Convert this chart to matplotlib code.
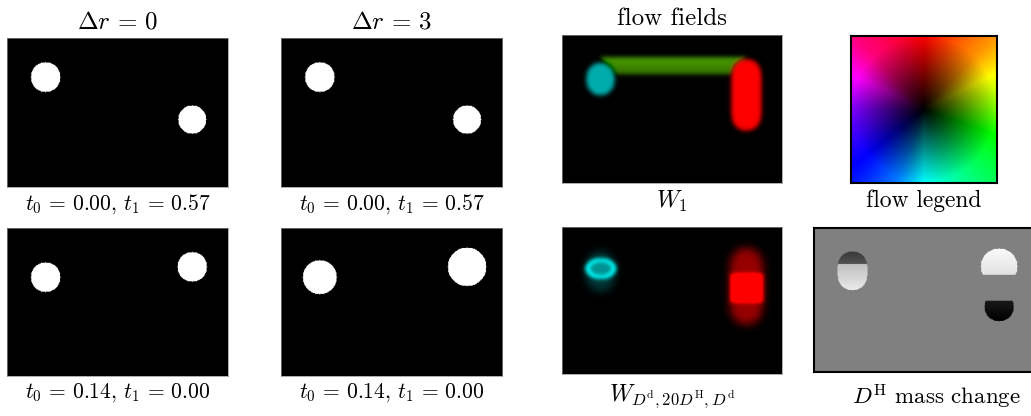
import numpy as np
import matplotlib
matplotlib.use('Agg')
import matplotlib.pyplot as plt
from matplotlib.colors import hsv_to_rgb

plt.rcParams['mathtext.fontset'] = 'cm'
plt.rcParams['font.family'] = 'serif'
plt.rcParams['font.serif'] = ['cmr10']
plt.rcParams['axes.unicode_minus'] = False

W, H = 1031, 416
NX, NY = 300, 200          # image grid (x, y), y grows downwards

# text
col_titles = [r'$\Delta r\,=\,0$', r'$\Delta r\,=\,3$', 'flow fields']
row1_labels = [r'$t_0\,=\,0.00,\,t_1\,=\,0.57$', r'$t_0\,=\,0.00,\,t_1\,=\,0.57$',
               r'$W_1$', 'flow legend']
row2_labels = [r'$t_0\,=\,0.14,\,t_1\,=\,0.00$', r'$t_0\,=\,0.14,\,t_1\,=\,0.00$',
               r'$W_{D^{\mathrm{d}},20D^{\mathrm{H}},D^{\mathrm{d}}}$',
               r'$D^{\mathrm{H}}$ mass change']

# discs (x, y, r) for the two image columns
discs_r1_dr0 = [(52, 52, 20), (251, 109, 19)]
discs_r1_dr3 = [(52, 52, 20), (251, 109, 19)]
discs_r2_dr0 = [(52, 66, 20), (251, 52, 20)]
discs_r2_dr3 = [(52, 66, 23), (251, 52, 26)]

# colour wheel: flow angle (deg, y up) -> hue (deg)
wheel_ang = [-180, -135, -110, -90, -45, -20, 0, 26, 45, 90, 135, 155, 180]
wheel_hue = [270, 235, 210, 180, 140, 120, 92, 60, 35, 0, -30, -60, -90]

# W1 flow: horizontal bar (trapezoid) + two swept discs
bar_y = [30, 52]
bar_x_top = [52, 250]
bar_x_bot = [72, 229]
bar_flow = (0.56, 0.0)
# capsules: x, y start, y end, r, u, v
w1_caps = [(52, 56, 62, 19, 0.0, -0.68),
           (251, 52, 109, 20, 0.0, 1.0)]

# second flow field
ring_c = (52.5, 56)
ring_ab = (21, 14)
ring_flow = [0.35, 0.95]       # inside, ring
halo_caps = [(52, 52, 68, 19, 0.0, -0.22),
             (251, 50, 110, 22, 0.0, 0.6)]
core_x = [230, 273]
core_y = [64, 101]
core_flow = (0.0, 1.0)

# mass change: x, y start, y end, r, clip top, clip bottom, grey top, grey bottom
mass_parts = [(52, 52, 66, 20, 0, 50, 0.22, 0.33),
              (52, 52, 66, 20, 50, NY, 0.75, 0.92),
              (252, 53, 53, 25, 0, 65, 0.98, 0.88),
              (252, 109, 109, 20, 101, NY, 0.10, 0.0)]

X, Y = np.meshgrid(np.arange(NX), np.arange(NY))


def capsule(cx, ya, yb, r):
    yy = np.clip(Y, ya, yb)
    return (X - cx) ** 2 + (Y - yy) ** 2 <= r ** 2


def blur(a, s):
    n = int(3 * s) + 1
    k = np.exp(-0.5 * (np.arange(-n, n + 1) / s) ** 2)
    k /= k.sum()
    a = np.apply_along_axis(lambda m: np.convolve(m, k, mode='same'), 0, a)
    a = np.apply_along_axis(lambda m: np.convolve(m, k, mode='same'), 1, a)
    return a


def wheel(u, v):
    ang = np.degrees(np.arctan2(v, u))
    hue = (np.interp(ang, wheel_ang, wheel_hue) % 360) / 360
    mag = np.clip(np.hypot(u, v), 0, 1)
    return hsv_to_rgb(np.stack([hue, np.ones_like(hue), mag], -1))


def disc_image(discs):
    img = np.zeros((NY, NX))
    for cx, cy, r in discs:
        img[(X - cx) ** 2 + (Y - cy) ** 2 <= r ** 2] = 1
    return img


# W1
u = np.zeros((NY, NX)); v = np.zeros((NY, NX))
f = (Y - bar_y[0]) / (bar_y[1] - bar_y[0])
bar = ((Y >= bar_y[0]) & (Y <= bar_y[1])
       & (X >= bar_x_top[0] + f * (bar_x_bot[0] - bar_x_top[0]))
       & (X <= bar_x_top[1] + f * (bar_x_bot[1] - bar_x_top[1])))
u[bar] = bar_flow[0] * (1.1 - 0.3 * f[bar])
v[bar] = bar_flow[1]
for cx, ya, yb, r, fu, fv in w1_caps:
    m = capsule(cx, ya, yb, r)
    u[m], v[m] = fu, fv
flow1 = wheel(blur(u, 3.0), blur(v, 3.0))

# second flow
uh = np.zeros((NY, NX)); vh = np.zeros((NY, NX))
for cx, ya, yb, r, fu, fv in halo_caps:
    m = capsule(cx, ya, yb, r)
    uh[m], vh[m] = fu, fv
us = np.zeros((NY, NX)); vs = np.zeros((NY, NX))
e = ((X - ring_c[0]) / ring_ab[0]) ** 2 + ((Y - ring_c[1]) / ring_ab[1]) ** 2
vs[e < 0.5] = -ring_flow[0]
vs[(e >= 0.5) & (e <= 1)] = -ring_flow[1]
core = (X >= core_x[0]) & (X <= core_x[1]) & (Y >= core_y[0]) & (Y <= core_y[1])
us[core], vs[core] = core_flow
flow2 = wheel(blur(uh, 6) + blur(us, 2.8), blur(vh, 6) + blur(vs, 2.8))

# legend
g = np.linspace(-1, 1, 148)
LU, LV = np.meshgrid(g, -g)
legend_img = wheel(LU, LV)

# mass change
mass = np.full((NY, NX), 0.5)
for cx, ya, yb, r, c0, c1, g0, g1 in mass_parts:
    m = capsule(cx, ya, yb, r) & (Y >= c0) & (Y < c1)
    y0 = max(c0, ya - r); y1 = min(c1, yb + r)
    mass[m] = (g0 + (g1 - g0) * (Y - y0) / (y1 - y0))[m]


def add_ax(x0, y0, x1, y1):
    return fig.add_axes([x0 / W, 1 - y1 / H, (x1 - x0) / W, (y1 - y0) / H])


fig = plt.figure(figsize=(W / 100, H / 100), dpi=100)

boxes = [[(7, 38, 228, 187), (281, 38, 502, 187), (562, 35, 782, 183), (851, 36, 997, 183)],
         [(7, 228, 228, 376), (281, 228, 502, 376), (562, 227, 782, 374), (814, 228, 1034, 372)]]
images = [[disc_image(discs_r1_dr0), disc_image(discs_r1_dr3), flow1, legend_img],
          [disc_image(discs_r2_dr0), disc_image(discs_r2_dr3), flow2, mass]]
labels = [row1_labels, row2_labels]
label_size = [[15.5, 15.5, 17, 17], [15.5, 15.5, 17, 16.5]]
label_off = [[(0, -4), (0, -4), (0, -4), (0, -5)],
             [(0, -4), (0, -4), (0, -6), (9, -8)]]

for i in range(2):
    for j in range(4):
        ax = add_ax(*boxes[i][j])
        img = images[i][j]
        if img.ndim == 2:
            ax.imshow(img, cmap='gray', vmin=0, vmax=1, aspect='auto',
                      extent=(0, img.shape[1], img.shape[0], 0))
        else:
            ax.imshow(img, aspect='auto', extent=(0, img.shape[1], img.shape[0], 0))
        ax.set_xticks([]); ax.set_yticks([])
        for s in ax.spines.values():
            if j == 3:
                s.set_color('black'); s.set_linewidth(1.5)
            else:
                s.set_color('0.55'); s.set_linewidth(0.5)
        if i == 0 and j < 3:
            ax.set_title(col_titles[j], fontsize=18, pad=7)
        ax.annotate(labels[i][j], xy=(0.5, 0), xycoords='axes fraction',
                    xytext=label_off[i][j], textcoords='offset points',
                    ha='center', va='top', fontsize=label_size[i][j])

fig.savefig('out.png', dpi=100)
